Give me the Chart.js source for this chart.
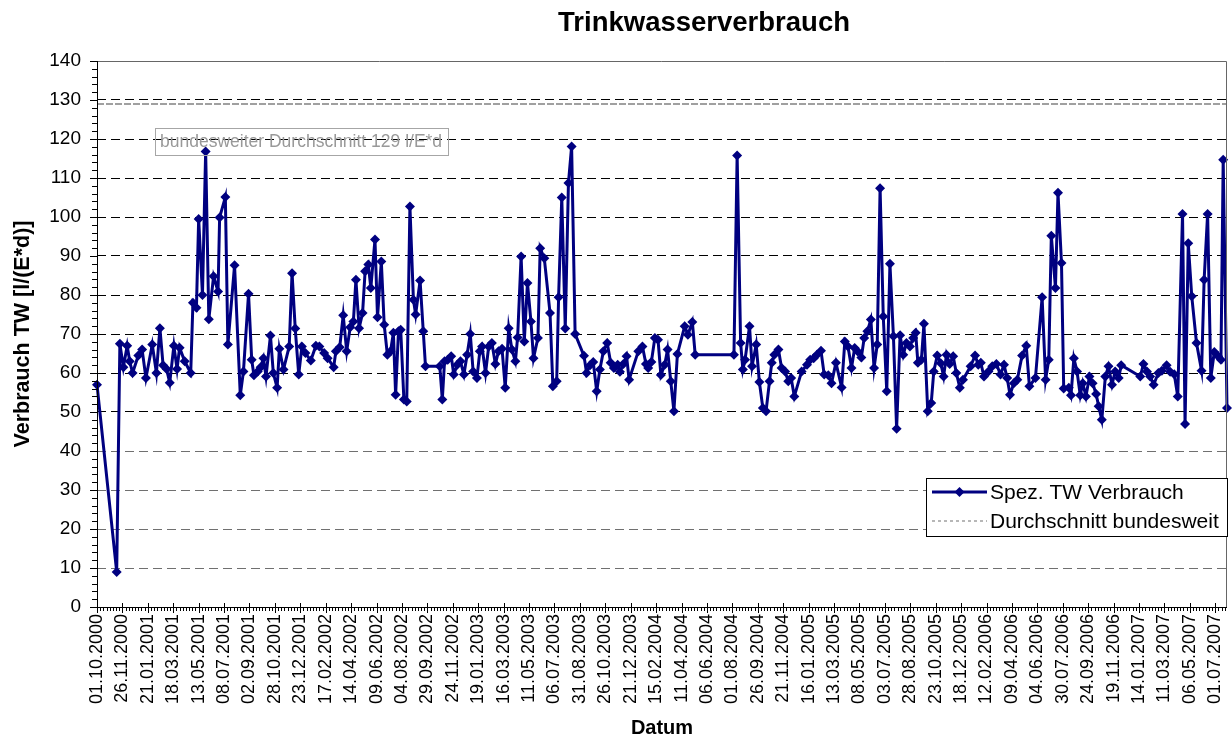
<!DOCTYPE html>
<html lang="de">
<head>
<meta charset="utf-8">
<title>Trinkwasserverbrauch</title>
<script src="https://cdn.jsdelivr.net/npm/chart.js@4.4.1/dist/chart.umd.min.js"></script>
<style>
  html, body { margin: 0; padding: 0; background: #fff; }
  #wrap { width: 1232px; height: 738px; }
</style>
</head>
<body>
<div id="wrap"><canvas id="myChart" width="1232" height="738"></canvas></div>
<script>
// Ablesung: Woche seit dem 01.10.2000
const woche = [
  0, 6.2, 7.2, 8.3, 9.5, 10.3, 11.2, 13.0, 14.2, 15.4, 17.4, 18.7, 19.8, 20.8, 21.9, 22.9, 24.2, 25.2, 26.0, 27.6,
  29.5, 30.2, 31.3, 32.0, 33.2, 34.2, 35.2, 36.7, 38.1, 38.6, 40.4, 41.2, 43.3, 45.1, 46.1, 47.7, 48.7, 49.4, 50.6, 51.5,
  52.4, 53.2, 54.6, 55.5, 56.7, 57.4, 58.7, 60.5, 61.4, 62.4, 63.5, 64.5, 65.6, 67.3, 68.9, 70.0, 71.5, 72.6, 74.5, 75.2,
  76.4, 77.5, 78.6, 79.7, 80.7, 81.5, 82.5, 83.6, 84.4, 85.4, 86.2, 87.5, 88.3, 89.5, 90.4, 91.4, 92.4, 93.3, 94.0, 94.9,
  95.6, 96.6, 97.5, 98.5, 99.6, 100.3, 101.7, 102.7, 103.4, 107.9, 108.7, 109.4, 110.4, 111.5, 112.3, 113.4, 114.4, 115.5, 116.5, 117.5,
  118.4, 119.6, 120.5, 121.2, 122.3, 123.3, 124.3, 125.4, 126.4, 127.5, 128.5, 129.6, 130.6, 131.7, 132.4, 133.5, 134.5, 135.5, 136.6, 137.4,
  138.8, 139.5, 140.8, 142.6, 143.5, 144.7, 145.3, 146.3, 147.4, 148.4, 149.4, 150.5, 153.3, 154.1, 155.2, 156.2, 157.3, 158.3, 159.4, 160.6,
  161.7, 162.7, 163.9, 164.6, 165.7, 166.7, 167.5, 170.4, 171.7, 172.8, 173.5, 174.5, 175.6, 176.6, 177.5, 178.7, 179.6, 180.6, 181.6, 182.7,
  185.0, 186.0, 187.4, 188.3, 200.5, 201.5, 202.6, 203.3, 204.0, 205.4, 206.2, 207.5, 208.5, 209.6, 210.6, 211.7, 212.4, 213.2, 214.5, 215.5,
  216.6, 217.6, 218.5, 219.5, 221.8, 223.5, 224.5, 225.6, 226.6, 227.9, 228.9, 230.2, 231.2, 232.6, 234.4, 235.4, 236.4, 237.5, 238.5, 239.4,
  240.6, 241.5, 242.5, 243.6, 244.6, 245.6, 246.5, 247.5, 248.6, 249.6, 250.7, 251.7, 252.8, 253.8, 254.8, 255.9, 256.9, 257.7, 258.4, 259.5,
  260.3, 261.5, 262.6, 263.4, 264.5, 265.6, 266.5, 267.4, 268.4, 269.5, 270.5, 271.6, 272.6, 275.0, 276.4, 277.4, 278.2, 279.2, 280.6, 281.8,
  283.1, 284.4, 285.5, 286.5, 287.4, 288.6, 289.7, 291.2, 292.5, 293.5, 295.4, 297.5, 298.6, 299.6, 300.4, 301.7, 302.5, 303.6, 304.3, 305.9,
  306.6, 307.5, 308.5, 309.5, 310.3, 311.3, 312.4, 313.4, 314.5, 315.3, 316.3, 317.4, 318.4, 319.5, 320.5, 321.6, 322.4, 328.4, 329.4, 330.5,
  331.5, 332.6, 334.1, 335.2, 336.7, 337.8, 339.1, 340.2, 341.7, 342.5, 343.5, 344.6, 346.1, 347.7, 348.5, 349.6, 350.6, 351.7, 352.9, 353.8,
  354.5, 355.7
];

// spez. Trinkwasserverbrauch in l/(E*d)
const verbrauch = [
  57, 9, 67.5, 61.5, 67, 63, 60, 64.5, 66, 58.7, 67.3, 60, 71.5, 62, 61, 57.5, 67, 61, 66.5, 63,
  60, 78, 76.7, 99.5, 80, 116.8, 73.8, 84.8, 80.9, 99.9, 105.1, 67.3, 87.6, 54.3, 60.4, 80.3, 63.4, 59.4, 60.4, 61.5,
  63.8, 59.1, 69.6, 60, 56.2, 66.2, 60.9, 66.8, 85.6, 71.4, 59.6, 66.8, 65.1, 63.2, 67, 66.8, 65.1, 63.8, 61.5, 65.6,
  66.6, 74.8, 65.6, 71.7, 73.2, 83.9, 71.5, 75.4, 86.1, 87.8, 81.8, 94.2, 74.3, 88.6, 72.4, 64.7, 65.6, 70.3, 54.4, 70.7,
  71.1, 53.2, 52.7, 102.7, 78.8, 75, 83.7, 70.7, 61.7, 61.7, 53.2, 63, 63.4, 64.3, 59.6, 62.1, 63, 59.6, 64.7, 70,
  60.4, 58.7, 65.6, 66.8, 60, 66.8, 67.7, 62.3, 65.6, 66.2, 56.2, 71.5, 66, 63, 69.1, 89.9, 68.1, 83.1, 73.2, 63.8,
  69, 92, 89.4, 75.4, 56.6, 57.9, 79.4, 105, 71.4, 108.7, 118.1, 70, 64.4, 60, 62, 62.8, 55.3, 60.9, 65.6, 67.7,
  62.6, 61.3, 62.1, 60.3, 62.3, 64.3, 58.3, 65.6, 66.8, 62.3, 61.3, 62.8, 69, 68.5, 59.5, 62.1, 66, 57.9, 50.2, 64.9,
  72, 69.8, 73.1, 64.7, 64.7, 115.8, 67.7, 60.9, 63.4, 72, 61.7, 67.3, 57.7, 51, 50.2, 57.9, 62.6, 64.7, 66, 61.3,
  60.4, 57.9, 58.7, 54, 60.4, 62.1, 63.4, 63.8, 64.7, 65.7, 59.6, 59.4, 57.4, 62.6, 56.3, 68.1, 66.8, 61.3, 66.4, 65.6,
  64, 69, 70.7, 73.7, 61.3, 67.3, 107.4, 74.5, 55.3, 88, 69.4, 45.7, 69.7, 64.7, 67.7, 66.8, 69, 70.3, 62.6, 63.4,
  72.6, 50.2, 52.3, 60.4, 64.5, 62.5, 59.1, 64.7, 62.3, 64.3, 60, 56.2, 58.3, 61.7, 64.5, 62.1, 62.6, 59.1, 60.4, 61.7,
  62.3, 59.6, 62.1, 58.7, 54.4, 57.4, 58.3, 64.5, 67, 56.6, 58.7, 79.4, 58.3, 63.4, 95.2, 81.8, 106.2, 88.2, 56, 56.2,
  54.3, 63.8, 60.4, 54.3, 57.4, 54, 59.1, 57.4, 54.6, 51.5, 48, 59.1, 61.7, 57, 60.4, 58.7, 62, 59.1, 62.3, 60.4,
  59.1, 57, 60, 60.6, 62, 60.3, 59.7, 54, 100.8, 46.9, 93.3, 79.7, 67.7, 60.6, 83.9, 100.8, 58.7, 65.4, 64.3, 63.4,
  114.7, 51
];

// bundesweiter Durchschnitt in l/(E*d)
const durchschnitt = 129;

// Achsenbeschriftung, alle 56 Tage ab 01.10.2000
const tickLabels = [
  '01.10.2000', '26.11.2000', '21.01.2001', '18.03.2001', '13.05.2001', '08.07.2001', '02.09.2001', '28.10.2001',
  '23.12.2001', '17.02.2002', '14.04.2002', '09.06.2002', '04.08.2002', '29.09.2002', '24.11.2002', '19.01.2003',
  '16.03.2003', '11.05.2003', '06.07.2003', '31.08.2003', '26.10.2003', '21.12.2003', '15.02.2004', '11.04.2004',
  '06.06.2004', '01.08.2004', '26.09.2004', '21.11.2004', '16.01.2005', '13.03.2005', '08.05.2005', '03.07.2005',
  '28.08.2005', '23.10.2005', '18.12.2005', '12.02.2006', '09.04.2006', '04.06.2006', '30.07.2006', '24.09.2006',
  '19.11.2006', '14.01.2007', '11.03.2007', '06.05.2007', '01.07.2007'
];
const tickTage = 56;

const schrift = "'Liberation Sans', Arial, sans-serif";
Chart.defaults.font.family = schrift;
Chart.defaults.color = '#000';

const punkte = woche.map((w, i) => ({ x: w * 7, y: verbrauch[i] }));
const xMax = punkte[punkte.length - 1].x;

function raute(ctx, cx, cy, r) {
  ctx.beginPath();
  ctx.moveTo(cx, cy - r);
  ctx.lineTo(cx + r, cy);
  ctx.lineTo(cx, cy + r);
  ctx.lineTo(cx - r, cy);
  ctx.closePath();
  ctx.fill();
}

// Rahmen, Teilstriche, Titel, Textfeld und Legende
const extras = {
  id: 'extras',
  afterDraw(chart) {
    const { ctx, chartArea: a, scales: { x, y } } = chart;
    ctx.save();

    ctx.strokeStyle = '#666';
    ctx.lineWidth = 1;
    ctx.beginPath();
    ctx.moveTo(a.left, a.top + 0.5);
    ctx.lineTo(a.right - 0.5, a.top + 0.5);
    ctx.lineTo(a.right - 0.5, a.bottom);
    ctx.stroke();

    ctx.strokeStyle = '#000';
    ctx.beginPath();
    ctx.moveTo(a.left + 0.5, a.top);
    ctx.lineTo(a.left + 0.5, a.bottom + 0.5);
    ctx.lineTo(a.right, a.bottom + 0.5);
    for (let d = 0; d <= x.max; d += 7) {
      const px = Math.round(x.getPixelForValue(d)) + 0.5;
      const gross = d % tickTage === 0;
      ctx.moveTo(px, a.bottom - (gross ? 4 : 0));
      ctx.lineTo(px, a.bottom + (gross ? 6 : 4));
    }
    for (let v = 0; v <= y.max; v += 2) {
      const py = Math.round(y.getPixelForValue(v)) + 0.5;
      ctx.moveTo(a.left - (v % 10 === 0 ? 7 : 5), py);
      ctx.lineTo(a.left, py);
    }
    ctx.stroke();

    // Titel
    ctx.fillStyle = '#000';
    ctx.font = 'bold 27.5px ' + schrift;
    ctx.textAlign = 'center';
    ctx.textBaseline = 'middle';
    ctx.fillText('Trinkwasserverbrauch', 704, 23);

    // Textfeld
    ctx.strokeStyle = '#a6a6a6';
    ctx.strokeRect(155.5, 128.5, 293, 27);
    ctx.fillStyle = '#999';
    ctx.font = '17.5px ' + schrift;
    ctx.textAlign = 'left';
    ctx.fillText('bundesweiter Durchschnitt ' + durchschnitt + ' l/E*d', 160, 142.5);

    // Legende
    const ds = chart.data.datasets;
    ctx.fillStyle = '#fff';
    ctx.fillRect(926, 478, 302, 59);
    ctx.strokeStyle = '#000';
    ctx.lineWidth = 1;
    ctx.strokeRect(926.5, 478.5, 301, 58);
    ctx.font = '21px ' + schrift;
    ds.forEach((d, i) => {
      const ly = 492 + i * 29;
      ctx.strokeStyle = d.borderColor;
      ctx.lineWidth = d.pointRadius ? d.borderWidth : 1.5;
      ctx.setLineDash(d.borderDash ? [3, 3] : []);
      ctx.beginPath();
      ctx.moveTo(932, ly);
      ctx.lineTo(987, ly);
      ctx.stroke();
      ctx.setLineDash([]);
      if (d.pointRadius) {
        ctx.fillStyle = d.backgroundColor;
        raute(ctx, 959.5, ly, 5);
      }
      ctx.fillStyle = '#000';
      ctx.fillText(d.label, 990, ly + 1);
    });
    ctx.restore();
  }
};

const ctx = document.getElementById('myChart');
new Chart(ctx, {
  type: 'line',
  data: {
    datasets: [
      {
        label: 'Spez. TW Verbrauch',
        data: punkte,
        borderColor: '#000080',
        backgroundColor: '#000080',
        borderWidth: 3,
        pointStyle: 'rectRot',
        pointRadius: 5,
        pointBorderWidth: 0,
        tension: 0,
        clip: false
      },
      {
        label: 'Durchschnitt bundesweit',
        data: [{ x: 0, y: durchschnitt }, { x: xMax, y: durchschnitt }],
        borderColor: '#a0a0a0',
        backgroundColor: '#a0a0a0',
        borderWidth: 2,
        borderDash: [7, 2],
        pointRadius: 0
      }
    ]
  },
  options: {
    responsive: false,
    animation: false,
    events: [],
    layout: { padding: { top: 61, right: 1, left: 0, bottom: 0 } },
    plugins: { legend: { display: false }, tooltip: { enabled: false } },
    scales: {
      x: {
        type: 'linear',
        min: 0,
        max: xMax,
        afterBuildTicks: ax => { ax.ticks = tickLabels.map((l, i) => ({ value: i * tickTage })); },
        afterFit: s => { s.height = 131; s.paddingLeft = 0; s.paddingRight = 0; },
        grid: { display: false, drawTicks: false },
        border: { display: false },
        ticks: {
          autoSkip: false,
          maxRotation: 90,
          minRotation: 90,
          padding: 7,
          font: { size: 18 },
          callback: v => tickLabels[Math.round(v / tickTage)]
        },
        title: { display: true, text: 'Datum', font: { size: 20, weight: 'bold', lineHeight: 1 }, padding: 0 }
      },
      y: {
        min: 0,
        max: 140,
        afterFit: s => { s.width = 97; s.paddingTop = 0; s.paddingBottom = 0; },
        grid: {
          drawTicks: false,
          lineWidth: 1,
          color: c => (c.tick.value === 0 || c.tick.value === 140) ? 'rgba(0,0,0,0)'
            : (c.tick.value >= 50 ? '#000' : '#707070')
        },
        border: { display: false, dash: [9, 5] },
        ticks: { stepSize: 10, padding: 16, font: { size: 19 } },
        title: { display: true, text: 'Verbrauch TW [l/(E*d)]', font: { size: 21.5, weight: 'bold', lineHeight: 1 }, padding: { top: 12, bottom: 0 } }
      }
    }
  },
  plugins: [extras]
});
</script>
</body>
</html>
